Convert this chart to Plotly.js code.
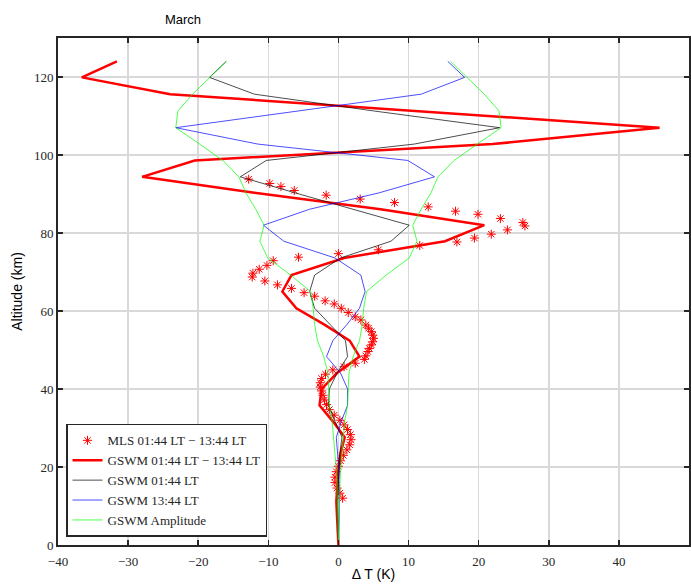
<!DOCTYPE html>
<html>
<head>
<meta charset="utf-8">
<script src="https://cdn.plot.ly/plotly-3.0.1.min.js"></script>
<style>html,body{margin:0;padding:0;background:#fff;}#chart{width:691px;height:585px;}</style>
</head>
<body>
<div id="chart"></div>
<script>
// GSWM altitude grid (km)
const gswmAlt = [124, 119.9, 115.6, 111.3, 107.0, 102.8, 98.6, 94.4, 90.3, 86.1, 82.0, 77.9, 73.6, 69.2, 65.0, 60.7, 56.5, 52.4, 48.3, 44.1, 40.0, 35.8, 31.7, 27.6, 23.5, 19.4, 15.3, 11.2, 7.1, 3.0, 0];
// GSWM 01:44 LT - 13:44 LT (K)
const gswmDiff = [-31.6, -36.6, -24.0, 11.0, 45.8, 22.0, -20.5, -28.0, -12.0, 6.0, 20.8, 15.2, 0.8, -6.7, -8.0, -6.0, -2.0, 1.6, 3.0, -0.2, -2.4, -2.7, -0.8, 0.9, 0.3, 0.0, -0.2, -0.3, -0.2, -0.1, 0];
// GSWM 01:44 LT (K)
const gswm0144 = [-16.0, -18.4, -12.0, 5.0, 23.0, 10.8, -10.3, -14.0, -6.2, 2.0, 10.1, 7.5, 0.3, -3.4, -4.1, -3.4, -1.1, 1.0, 1.3, -0.2, -1.3, -1.4, -0.5, 0.5, 0.2, 0.05, -0.1, -0.15, -0.1, -0.05, 0];
// GSWM 13:44 LT (K)
const gswm1344 = [15.6, 18.0, 11.8, -6.0, -23.2, -11.5, 9.9, 13.7, 5.8, -4.1, -10.7, -7.8, -0.5, 3.2, 3.8, 3.0, 1.2, -0.8, -1.7, 0.3, 1.3, 1.3, 0.4, -0.3, -0.1, 0.05, 0.1, 0.15, 0.1, 0.05, 0];
// GSWM amplitude (K), drawn as +/- envelope
const gswmAmp = [16.0, 18.4, 20.8, 22.9, 23.2, 19.8, 16.5, 14.2, 13.2, 11.8, 10.6, 11.2, 10.1, 6.8, 4.0, 3.6, 3.4, 3.0, 2.1, 1.5, 1.4, 1.3, 0.9, 0.7, 0.45, 0.3, 0.2, 0.12, 0.07, 0.03, 0];

// MLS 01:44 LT - 13:44 LT
const mlsAlt = [93.8, 92.7, 91.9, 90.9, 89.7, 88.7, 87.8, 86.7, 85.6, 84.8, 83.7, 82.7, 81.8, 80.8, 79.7, 78.7, 77.7, 76.8, 75.7, 74.7, 73.8, 72.9, 71.7, 70.7, 69.7, 68.7, 67.7, 66.7, 65.8, 64.7, 63.8, 62.6, 61.8, 60.7, 59.6, 58.5, 57.7, 56.4, 55.6, 54.7, 53.8, 53.0, 52.1, 51.3, 50.4, 49.6, 48.5, 47.6, 46.6, 45.7, 44.9, 43.8, 42.7, 41.6, 40.5, 39.5, 38.4, 37.2, 36.0, 34.7, 33.3, 32.0, 30.8, 29.6, 28.3, 27.0, 25.7, 24.4, 23.0, 21.6, 20.2, 18.8, 17.4, 16.0, 14.6, 13.3, 12.0];
const mlsDT = [-12.8, -9.8, -8.2, -6.3, -1.75, 3.1, 8.0, 12.8, 16.7, 19.9, 23.1, 26.3, 26.6, 24.1, 21.8, 19.4, 16.9, 11.6, 5.7, 0.0, -5.7, -9.3, -10.2, -11.3, -12.2, -12.3, -10.5, -8.7, -6.7, -4.9, -3.4, -1.9, -0.6, 0.4, 1.4, 2.4, 3.2, 3.9, 4.3, 4.7, 4.9, 5.0, 4.9, 4.7, 4.4, 4.2, 3.9, 3.7, 2.4, 0.8, -0.8, -1.85, -2.4, -2.6, -2.6, -2.4, -2.2, -2.0, -1.7, -1.3, -0.6, 0.2, 0.8, 1.3, 1.7, 1.8, 1.6, 1.2, 0.7, 0.3, 0.0, -0.3, -0.5, -0.5, -0.2, 0.2, 0.6];

const xTicks = [-40, -30, -20, -10, 0, 10, 20, 30, 40, 50];
const yTicks = [0, 20, 40, 60, 80, 100, 120];

const serif = "Liberation Serif, DejaVu Serif, serif";
const sans = "Liberation Sans, Arial, sans-serif";

const traces = [
  {x: mlsDT, y: mlsAlt, type: 'scatter', mode: 'markers', name: 'MLS 01:44 LT \u2212 13:44 LT',
   marker: {symbol: 'asterisk-open', size: 7.5, color: '#ff0000', line: {color: '#ff0000', width: 1}}},
  {x: gswmDiff, y: gswmAlt, type: 'scatter', mode: 'lines', name: 'GSWM 01:44 LT \u2212 13:44 LT',
   line: {color: '#ff0000', width: 2.5}},
  {x: gswm0144, y: gswmAlt, type: 'scatter', mode: 'lines', name: 'GSWM 01:44 LT',
   line: {color: '#000000', width: 0.7}},
  {x: gswm1344, y: gswmAlt, type: 'scatter', mode: 'lines', name: 'GSWM 13:44 LT',
   line: {color: '#0000ff', width: 0.7}},
  {x: gswmAmp, y: gswmAlt, type: 'scatter', mode: 'lines', name: 'GSWM Amplitude',
   line: {color: '#00ff00', width: 0.7}},
  {x: gswmAmp.map(v => -v), y: gswmAlt, type: 'scatter', mode: 'lines', name: 'GSWM Amplitude',
   showlegend: false, line: {color: '#00ff00', width: 0.7}}
];

const layout = {
  width: 691, height: 585,
  margin: {l: 58, r: 2, t: 38, b: 40},
  paper_bgcolor: '#ffffff', plot_bgcolor: '#ffffff',
  showlegend: true,
  title: {text: 'March', x: 183/691, xanchor: 'center', xref: 'container', y: 1 - 19/585, yanchor: 'middle',
          font: {family: sans, size: 13, color: '#000'}},
  xaxis: {
    range: [-40, 50], tickvals: xTicks, ticktext: xTicks.map(v => v < 0 ? '\u2212' + Math.abs(v) : String(v)),
    showgrid: true, gridcolor: '#d9d9d9', gridwidth: 1.5, zeroline: false,
    showline: true, linecolor: '#262626', linewidth: 2, mirror: 'ticks',
    ticks: 'inside', ticklen: 5, tickwidth: 1.5, tickcolor: '#262626',
    ticklabelstandoff: 3,
    tickfont: {family: serif, size: 13, color: '#262626'},
    title: {text: '\u0394 T (K)', font: {family: sans, size: 14, color: '#000'}, standoff: 2}
  },
  yaxis: {
    range: [0, 130], tickvals: yTicks, ticktext: yTicks.map(String),
    showgrid: true, gridcolor: '#d9d9d9', gridwidth: 1.5, zeroline: false,
    showline: true, linecolor: '#262626', linewidth: 2, mirror: 'ticks',
    ticks: 'inside', ticklen: 5, tickwidth: 1.5, tickcolor: '#262626',
    tickfont: {family: serif, size: 13, color: '#262626'},
    title: {text: 'Altitude (km)', font: {family: sans, size: 14, color: '#000'}, standoff: 8}
  },
  legend: {
    x: 0.0127, y: 0.016, xanchor: 'left', yanchor: 'bottom',
    bgcolor: '#ffffff', bordercolor: '#262626', borderwidth: 1.5,
    font: {family: serif, size: 13, color: '#262626'},
    tracegroupgap: 0
  }
};

Plotly.newPlot('chart', traces, layout, {displayModeBar: false, staticPlot: true});
</script>
</body>
</html>
